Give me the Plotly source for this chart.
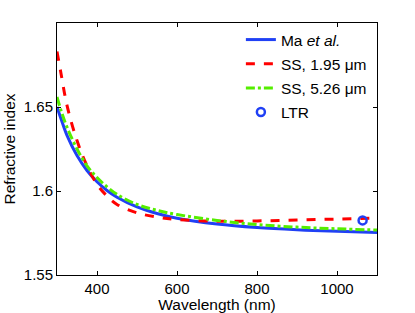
import plotly.graph_objects as go

wl = [300, 310, 325, 350, 375, 400, 425, 450, 500, 550, 600, 700, 800, 900, 1000, 1100]
n_ma = [1.6500, 1.6430, 1.6331, 1.6211, 1.6122, 1.6055, 1.6003, 1.5963, 1.5905, 1.5866, 1.5838,
        1.5803, 1.5782, 1.5769, 1.5760, 1.5753]
n_ss195 = [1.6830, 1.6700, 1.6510, 1.6300, 1.6150, 1.6040, 1.5970, 1.5920, 1.5870, 1.5845, 1.5830,
           1.5820, 1.5822, 1.5827, 1.5833, 1.5838]
n_ss526 = [1.6560, 1.6480, 1.6380, 1.6250, 1.6150, 1.6080, 1.6025, 1.5980, 1.5920, 1.5885, 1.5860,
           1.5825, 1.5800, 1.5785, 1.5775, 1.5768]
ltr_wl = [1064]
ltr_n = [1.5825]

font = "Liberation Sans, Arial, Helvetica, sans-serif"
blue = "#2040f5"
fig = go.Figure()
fig.add_trace(go.Scatter(x=wl, y=n_ma, mode="lines", name="Ma <i>et al.</i>", legendgroup="a",
                         line=dict(color=blue, width=3, shape="spline")))
fig.add_trace(go.Scatter(x=wl, y=n_ss195, mode="lines", name="SS, 1.95 \u03bcm", legendgroup="b",
                         line=dict(color="#ff0000", width=3, dash="dash", shape="spline")))
fig.add_trace(go.Scatter(x=wl, y=n_ss526, mode="lines", name="SS, 5.26 \u03bcm", legendgroup="c",
                         line=dict(color="#55ee00", width=3, dash="dashdot", shape="spline")))
fig.add_trace(go.Scatter(x=ltr_wl, y=ltr_n, mode="markers", name="LTR", legendgroup="d",
                         marker=dict(symbol="circle-open", size=8, color=blue,
                                     line=dict(width=2.5, color=blue))))

axis_common = dict(showline=True, linecolor="black", linewidth=1, mirror="ticks",
                   ticks="inside", ticklen=4, tickcolor="black", showgrid=False, automargin=False,
                   zeroline=False, tickfont=dict(size=15, color="black", family=font))
fig.update_xaxes(range=[300, 1100], tickvals=[400, 600, 800, 1000],
                 title=dict(text="Wavelength (nm)", font=dict(size=15.5, color="black", family=font),
                            standoff=0), **axis_common)
fig.update_yaxes(range=[1.55, 1.70], tickvals=[1.55, 1.6, 1.65], ticktext=["1.55", "1.6", "1.65"],
                 title=dict(text="Refractive index", font=dict(size=15.5, color="black", family=font),
                            standoff=4), **axis_common)
fig.update_layout(width=415, height=313, margin=dict(l=57, r=38, t=23, b=38),
                  plot_bgcolor="white", paper_bgcolor="white",
                  font=dict(family=font, size=15, color="black"),
                  legend=dict(x=0.984, xanchor="right", y=1.0, yanchor="top", bgcolor="rgba(0,0,0,0)",
                              font=dict(size=15.5, family=font, color="black"),
                              itemwidth=30, tracegroupgap=1, traceorder="grouped"))
fig.write_html("out.html", config={"displayModeBar": False},
               post_script="document.body.style.margin='0';document.body.style.padding='0';")
